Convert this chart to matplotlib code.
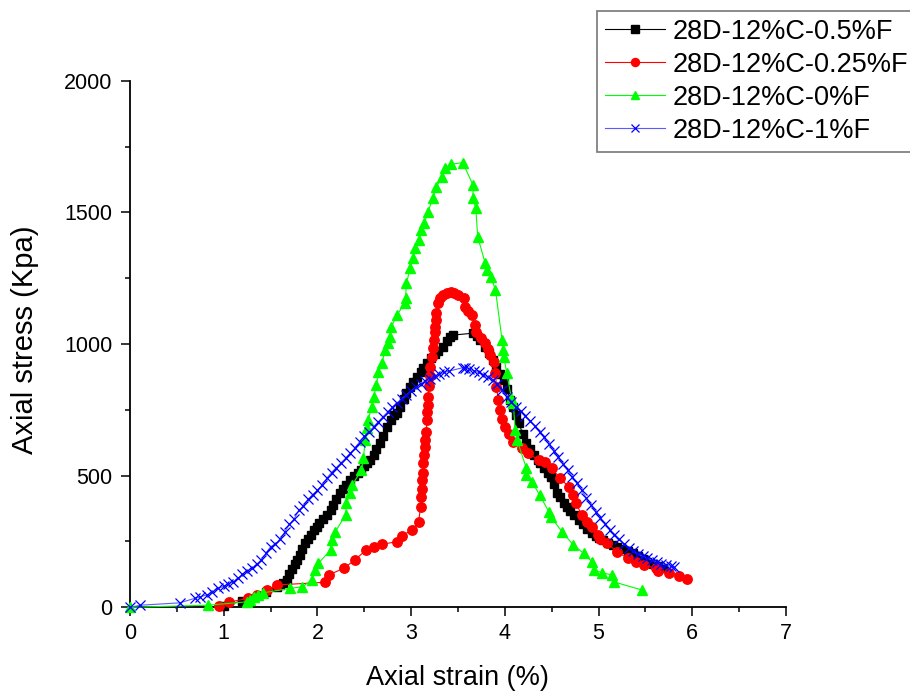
import matplotlib
matplotlib.use('Agg')
import matplotlib.pyplot as plt
from matplotlib.ticker import MultipleLocator

plt.rcParams['font.family'] = ['Liberation Sans', 'DejaVu Sans']

labels = ['28D-12%C-0.5%F', '28D-12%C-0.25%F', '28D-12%C-0%F', '28D-12%C-1%F']

# 0.5 %F (black squares)
x_05 = [1.00, 1.20, 1.45, 1.57, 1.60, 1.63, 1.67, 1.70, 1.73, 1.76, 1.78, 1.81, 1.84, 1.87,
        1.90, 1.93, 1.96, 1.99, 2.02, 2.06, 2.10, 2.14, 2.17, 2.20, 2.24, 2.27, 2.31, 2.35,
        2.39, 2.43, 2.46, 2.50, 2.53, 2.56, 2.60, 2.63, 2.67, 2.70, 2.74, 2.78, 2.82, 2.85,
        2.88, 2.92, 2.95, 2.99, 3.02, 3.06, 3.10, 3.13, 3.17, 3.21, 3.25, 3.29, 3.34, 3.38,
        3.41, 3.45, 3.66, 3.70, 3.74, 3.79, 3.83, 3.87, 3.91, 3.95, 3.99, 4.02, 4.06, 4.09,
        4.12, 4.15, 4.19, 4.23, 4.27, 4.31, 4.35, 4.38, 4.42, 4.46, 4.49, 4.52, 4.56, 4.59,
        4.63, 4.66, 4.70, 4.74, 4.79, 4.83, 4.88, 4.93, 4.97, 5.01, 5.05, 5.10, 5.15, 5.20,
        5.25, 5.31, 5.37, 5.42, 5.47, 5.52, 5.58, 5.63, 5.69]
y_05 = [5, 25, 60, 78, 85, 92, 104, 125, 145, 165, 180, 200, 222, 243,
        260, 275, 292, 306, 320, 336, 352, 370, 390, 412, 433, 448, 465, 483,
        497, 510, 521, 535, 547, 559, 580, 600, 623, 650, 686, 710, 730, 737,
        760, 790, 813, 835, 855, 876, 895, 910, 927, 945, 962, 975, 990, 1010,
        1025, 1034, 1041, 1030, 1015, 990, 965, 940, 914, 888, 863, 830, 787, 762,
        730, 699, 660, 623, 600, 580, 560, 547, 530, 512, 496, 468, 433, 418,
        398, 382, 365, 350, 332, 315, 298, 281, 272, 264, 256, 246, 238, 230,
        222, 213, 205, 195, 184, 173, 164, 156, 148]

# 0.25 %F (red circles)
x_025 = [0.95, 1.06, 1.26, 1.35, 1.46, 1.57, 2.08, 2.12, 2.28, 2.40, 2.52, 2.60, 2.69, 2.85,
         2.90, 3.01, 3.08, 3.10, 3.11, 3.12, 3.12, 3.13, 3.13, 3.14, 3.15, 3.15, 3.16, 3.17,
         3.17, 3.18, 3.18, 3.19, 3.20, 3.20, 3.22, 3.23, 3.24, 3.25, 3.25, 3.26, 3.27, 3.29,
         3.31, 3.34, 3.38, 3.42, 3.46, 3.50, 3.56, 3.57, 3.61, 3.65, 3.68, 3.69, 3.75, 3.79,
         3.82, 3.84, 3.88, 3.90, 3.91, 3.93, 3.95, 3.97, 4.00, 4.04, 4.09, 4.18, 4.25, 4.36,
         4.43, 4.50, 4.59, 4.68, 4.73, 4.76, 4.82, 4.88, 4.93, 4.99, 5.02, 5.09, 5.20, 5.31,
         5.40, 5.48, 5.61, 5.63, 5.75, 5.86, 5.94]
y_025 = [5, 20, 34, 45, 66, 85, 95, 123, 148, 180, 218, 230, 240, 249,
         271, 294, 325, 382, 420, 450, 483, 510, 547, 580, 610, 635, 665, 711,
         740, 770, 800, 840, 880, 914, 950, 985, 1015, 1045, 1066, 1090, 1117, 1155,
         1175, 1186, 1195, 1199, 1192, 1186, 1174, 1142, 1125, 1110, 1072, 1047, 1022, 1003,
         980, 958, 933, 889, 838, 787, 749, 717, 686, 660, 629, 604, 585, 559,
         553, 528, 490, 458, 427, 395, 351, 325, 306, 275, 258, 243, 211, 186,
         173, 161, 148, 139, 129, 119, 106]

# 0 %F (green triangles)
x_0 = [0.00, 0.83, 1.25, 1.28, 1.32, 1.37, 1.42, 1.71, 1.84, 1.94, 1.97, 2.01, 2.14, 2.15,
       2.19, 2.30, 2.31, 2.35, 2.37, 2.47, 2.49, 2.51, 2.53, 2.54, 2.58, 2.60, 2.63, 2.65,
       2.69, 2.72, 2.75, 2.77, 2.79, 2.85, 2.93, 2.94, 2.95, 2.99, 3.02, 3.04, 3.08, 3.11,
       3.14, 3.18, 3.23, 3.27, 3.33, 3.36, 3.42, 3.55, 3.66, 3.66, 3.69, 3.71, 3.79, 3.81,
       3.85, 3.90, 3.97, 3.98, 3.99, 4.02, 4.07, 4.09, 4.11, 4.13, 4.23, 4.23, 4.29, 4.37,
       4.47, 4.49, 4.61, 4.73, 4.84, 4.93, 4.95, 5.04, 5.14, 5.16, 5.46]
y_0 = [0, 8, 21, 28, 38, 45, 55, 72, 78, 104, 142, 167, 218, 256,
       287, 350, 395, 433, 464, 521, 566, 635, 680, 711, 762, 800, 844, 895,
       927, 977, 1003, 1028, 1066, 1110, 1155, 1174, 1231, 1288, 1325, 1363, 1395, 1433,
       1458, 1502, 1553, 1597, 1635, 1667, 1682, 1689, 1604, 1553, 1515, 1408, 1307, 1281,
       1256, 1205, 1015, 977, 952, 889, 794, 775, 673, 635, 528, 502, 477, 427,
       363, 344, 287, 237, 205, 173, 142, 131, 123, 97, 66]

# 1 %F (blue crosses)
x_1 = [0.00, 0.11, 0.53, 0.69, 0.75, 0.82, 0.88, 0.94, 1.00, 1.05, 1.10, 1.15, 1.20, 1.25,
       1.30, 1.35, 1.40, 1.45, 1.50, 1.55, 1.60, 1.65, 1.70, 1.75, 1.80, 1.85, 1.90, 1.95,
       2.00, 2.05, 2.10, 2.15, 2.20, 2.25, 2.30, 2.35, 2.40, 2.45, 2.50, 2.55, 2.60, 2.65,
       2.70, 2.75, 2.80, 2.85, 2.90, 2.95, 3.00, 3.05, 3.10, 3.15, 3.20, 3.25, 3.30, 3.35,
       3.40, 3.55, 3.58, 3.62, 3.67, 3.72, 3.77, 3.82, 3.87, 3.92, 3.97, 4.02, 4.07, 4.12,
       4.17, 4.22, 4.27, 4.32, 4.37, 4.42, 4.47, 4.52, 4.57, 4.62, 4.67, 4.72, 4.77, 4.82,
       4.87, 4.92, 4.97, 5.02, 5.07, 5.12, 5.17, 5.22, 5.27, 5.32, 5.37, 5.42, 5.47, 5.52,
       5.57, 5.62, 5.67, 5.72, 5.77, 5.80]
y_1 = [0, 8, 17, 34, 40, 47, 58, 72, 80, 88, 97, 110, 125, 138,
       148, 163, 180, 205, 230, 240, 258, 285, 315, 335, 368, 385, 410, 428,
       445, 465, 490, 512, 530, 548, 566, 585, 605, 628, 650, 666, 686, 705,
       724, 742, 760, 777, 792, 806, 822, 836, 848, 858, 868, 877, 885, 892,
       897, 910, 910, 905, 898, 892, 884, 874, 864, 848, 825, 800, 778, 762,
       745, 727, 708, 688, 667, 645, 620, 595, 570, 545, 520, 496, 471, 444,
       415, 388, 362, 340, 316, 294, 276, 258, 240, 226, 214, 203, 194, 186,
       179, 172, 166, 160, 156, 153]

fig = plt.figure(figsize=(9.1, 6.91), dpi=100)
ax = fig.add_axes([0.1429, 0.1211, 0.7208, 0.7621])

h1, = ax.plot(x_05, y_05, color='black', lw=0.8, marker='s', ms=6.3, mec='black', mfc='black',
              label=labels[0], clip_on=False, zorder=3)
h2, = ax.plot(x_025, y_025, color='#ff0000', lw=0.8, marker='o', ms=6.8, mec='#ff0000', mfc='#ff0000',
              label=labels[1], clip_on=False, zorder=4)
h3, = ax.plot(x_0, y_0, color='#00ff00', lw=0.8, marker='^', ms=7.5, mec='#00ff00', mfc='#00ff00',
              label=labels[2], clip_on=False, zorder=5)
h4, = ax.plot(x_1, y_1, color='#5a5aff', lw=0.8, marker='x', ms=7, mec='#0000ff', mew=0.9,
              label=labels[3], clip_on=False, zorder=6)

ax.set_xlim(0, 7)
ax.set_ylim(0, 2000)
ax.xaxis.set_major_locator(MultipleLocator(1))
ax.xaxis.set_minor_locator(MultipleLocator(0.5))
ax.yaxis.set_major_locator(MultipleLocator(500))
ax.yaxis.set_minor_locator(MultipleLocator(250))
for s in ['top', 'right']:
    ax.spines[s].set_visible(False)
for s in ['left', 'bottom']:
    ax.spines[s].set_linewidth(1.3)
ax.tick_params(which='major', direction='out', length=6.5, width=1.1, labelsize=15.5, color='black')
ax.tick_params(which='minor', direction='out', length=3.5, width=1.1)
ax.tick_params(axis='x', which='major', pad=5)
ax.tick_params(axis='y', which='major', pad=6)

fig.text(457.5 / 910, 1 - 678 / 691, 'Axial strain (%)', fontsize=19.5, ha='center', va='center')
fig.text(25 / 910, 1 - 340 / 691, 'Axial stress (Kpa)', fontsize=21, ha='center', va='center',
         rotation=90)

leg = fig.legend(handles=[h1, h2, h3, h4], loc='upper left',
                 bbox_to_anchor=(597 / 910, 1 - 10.7 / 691), bbox_transform=fig.transFigure,
                 fontsize=19.5, frameon=True, fancybox=False, shadow=False,
                 handlelength=2.2, handletextpad=0.3, labelspacing=0.26, borderpad=0.3,
                 borderaxespad=0, markerscale=0.85)
leg.get_frame().set_edgecolor('#555555')
leg.get_frame().set_linewidth(1.2)

fig.savefig('out.png', dpi=100)
